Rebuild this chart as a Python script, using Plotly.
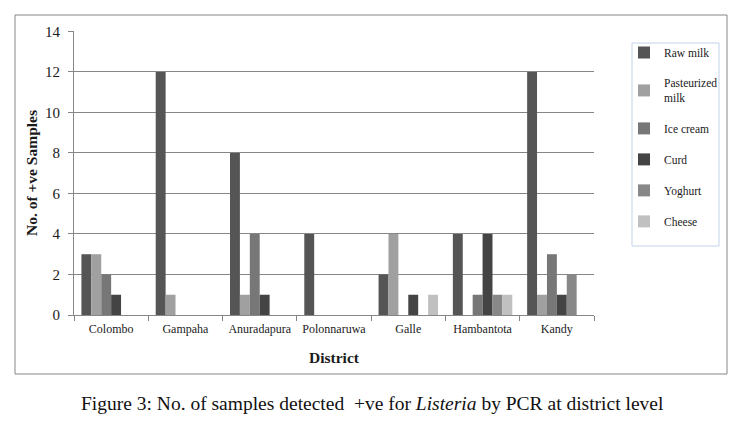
import plotly.graph_objects as go

districts = ['Colombo', 'Gampaha', 'Anuradapura', 'Polonnaruwa', 'Galle', 'Hambantota', 'Kandy']
products = ['Raw milk', 'Pasteurized<br>milk', 'Ice cream', 'Curd', 'Yoghurt', 'Cheese']
raw_milk = [3, 12, 8, 4, 2, 4, 12]
pasteurized_milk = [3, 1, 1, 0, 4, 0, 1]
ice_cream = [2, 0, 4, 0, 0, 1, 3]
curd = [1, 0, 1, 0, 1, 4, 1]
yoghurt = [0, 0, 0, 0, 0, 1, 2]
cheese = [0, 0, 0, 0, 1, 1, 0]
series = [raw_milk, pasteurized_milk, ice_cream, curd, yoghurt, cheese]
colors = ['#555555', '#a0a0a0', '#777777', '#444444', '#888888', '#c0c0c0']

fig = go.Figure()
for i, (name, vals) in enumerate(zip(products, series)):
    fig.add_trace(go.Bar(x=districts, y=vals, name=name,
                         marker={'color': colors[i], 'line': {'width': 0}},
                         legendgroup=f'g{i}'))

# page body has an 8px margin, so work in window pixels and shift
OFF = 8
W, H = 744 - 2 * OFF, 427 - 2 * OFF
L, R, T, B = 74 - OFF, 594 - OFF, 31 - OFF, 315 - OFF
pw, ph = R - L, B - T


def px(x):
    return (x - OFF - L) / pw


def py(y):
    return (B - (y - OFF)) / ph


serif = 'Liberation Serif, Times New Roman, serif'
ink = '#1a1a1a'
fig.update_layout(
    width=W, height=H,
    margin={'l': L, 'r': W - R, 't': T, 'b': H - B, 'pad': 0},
    paper_bgcolor='white', plot_bgcolor='white',
    barmode='group', bargap=0.2, bargroupgap=0,
    font={'family': serif, 'color': ink, 'size': 12},
    xaxis={'showline': True, 'linecolor': '#868686', 'linewidth': 1,
           'ticks': 'outside', 'tickson': 'boundaries', 'ticklen': 5,
           'tickcolor': '#868686', 'ticklabelstandoff': 3, 'tickangle': 0,
           'tickfont': {'family': serif, 'size': 12, 'color': ink},
           'title': {'text': '<b>District</b>', 'standoff': 16,
                     'font': {'family': serif, 'size': 15.5, 'color': ink}}},
    yaxis={'range': [0, 14.02], 'tickvals': list(range(0, 15, 2)), 'showgrid': True,
           'gridcolor': '#868686', 'showline': True, 'linecolor': '#868686',
           'ticks': 'outside', 'ticklen': 5, 'tickcolor': '#868686',
           'zeroline': False, 'ticklabelstandoff': 5,
           'tickfont': {'family': serif, 'size': 15, 'color': ink},
           'title': {'text': '<b>No. of +ve Samples</b>', 'standoff': 3,
                     'font': {'family': serif, 'size': 15.5, 'color': ink}}},
    legend={'x': px(624), 'y': py(38), 'xanchor': 'left', 'yanchor': 'top',
            'borderwidth': 0, 'bgcolor': 'rgba(0,0,0,0)',
            'font': {'family': serif, 'size': 11.5, 'color': ink},
            'tracegroupgap': 12, 'itemwidth': 30},
    showlegend=True,
)

# outer chart frame
fig.add_shape(type='rect', xref='paper', yref='paper',
              x0=px(15), x1=px(727), y0=py(374), y1=py(15),
              line={'color': '#868686', 'width': 1}, layer='below')
# legend frame
fig.add_shape(type='rect', xref='paper', yref='paper',
              x0=px(632), x1=px(719), y0=py(246), y1=py(43),
              line={'color': '#c3d3ea', 'width': 1}, layer='below')

fig.add_annotation(xref='paper', yref='paper', x=px(372), y=py(403),
                   text='Figure 3: No. of samples detected  +ve for <i>Listeria</i> by PCR at district level',
                   showarrow=False, xanchor='center', yanchor='middle',
                   font={'family': serif, 'size': 19.5, 'color': '#111111'})

fig.write_html('out.html')
